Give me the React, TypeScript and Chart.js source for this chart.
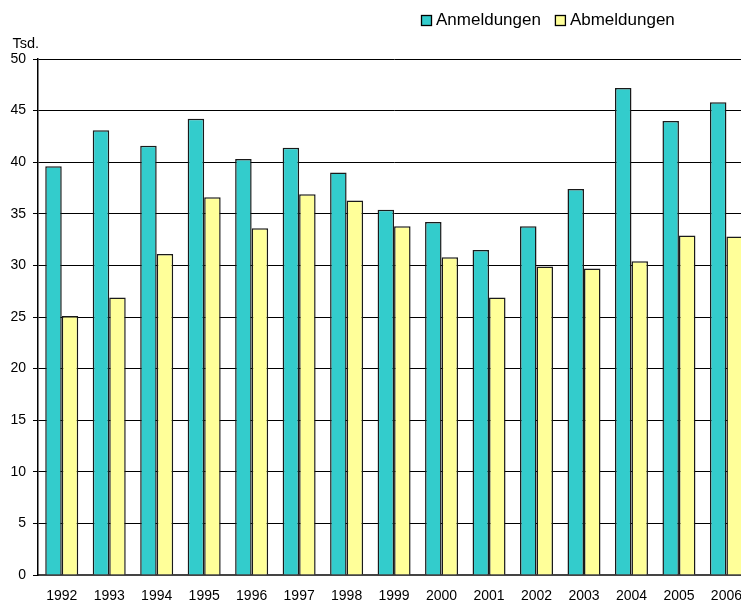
import React, { useEffect, useRef } from "react";
import { Chart, registerables } from "chart.js";

Chart.register(...registerables);

const years = ["1992","1993","1994","1995","1996","1997","1998","1999","2000","2001","2002","2003","2004","2005","2006"];
const anmeldungen = [39.6, 43.1, 41.6, 44.2, 40.3, 41.4, 39.0, 35.4, 34.2, 31.5, 33.8, 37.4, 47.2, 44.0, 45.8];
const abmeldungen = [25.1, 26.9, 31.1, 36.6, 33.6, 36.9, 36.3, 33.8, 30.8, 26.9, 29.9, 29.7, 30.4, 32.9, 32.8];
const seriesNames = ["Anmeldungen", "Abmeldungen"];
const seriesColors = ["#33CCCC", "#FFFF99"];
const unitLabel = "Tsd.";

const FONT = "Arial, 'Liberation Sans', sans-serif";

const legendPlugin = {
  id: "customLegend",
  afterDraw(chart: any) {
    const ctx = chart.ctx;
    ctx.save();
    ctx.fillStyle = "#000";
    ctx.font = `14.5px ${FONT}`;
    ctx.textBaseline = "alphabetic";
    ctx.textAlign = "left";
    ctx.fillText(unitLabel, 12.5, 48.3);
    ctx.font = `17px ${FONT}`;
    let x = 421;
    seriesNames.forEach((name, i) => {
      ctx.fillStyle = seriesColors[i];
      ctx.fillRect(x + 0.5, 15.5, 10, 10);
      ctx.strokeStyle = "#000";
      ctx.lineWidth = 1.3;
      ctx.strokeRect(x + 0.5, 15.5, 10, 10);
      ctx.fillStyle = "#000";
      ctx.fillText(name, x + 15, 25);
      const w = ctx.measureText(name).width;
      x = x + 15 + w + 14;
    });
    ctx.restore();
  },
};

export default function App() {
  const ref = useRef<HTMLCanvasElement>(null);
  useEffect(() => {
    if (!ref.current) return;
    const common = {
      borderColor: "#1a1a1a",
      borderWidth: 1.5,
      barPercentage: 1,
      categoryPercentage: 0.695,
    };
    const chart = new Chart(ref.current, {
      type: "bar",
      data: {
        labels: years,
        datasets: [
          { label: seriesNames[0], data: anmeldungen, backgroundColor: seriesColors[0], ...common },
          { label: seriesNames[1], data: abmeldungen, backgroundColor: seriesColors[1], ...common },
        ],
      },
      options: {
        responsive: false,
        animation: false,
        layout: { padding: { top: 59, left: 0, right: 0, bottom: 0 } },
        plugins: {
          legend: { display: false },
          tooltip: { enabled: false },
        },
        scales: {
          x: {
            grid: { display: false, drawTicks: false },
            border: { display: true, color: "#444", width: 2 },
            ticks: {
              color: "#000",
              font: { family: FONT, size: 14 },
              padding: 13,
              maxRotation: 0,
              autoSkip: false,
            },
            afterFit(scale: any) {
              scale.height = 27;
            },
          },
          y: {
            min: 0,
            max: 50,
            ticks: {
              stepSize: 5,
              color: "#000",
              font: { family: FONT, size: 14 },
              padding: 7,
            },
            grid: { color: "#000", lineWidth: 1, tickLength: 5, drawTicks: true },
            border: { display: true, color: "#000", width: 1.5 },
            afterFit(scale: any) {
              scale.width = 38;
            },
          },
        },
      },
      plugins: [legendPlugin],
    });
    return () => chart.destroy();
  }, []);
  return (
    <div style={{ position: "fixed", left: 0, top: 0, width: 741, height: 602, overflow: "hidden", background: "#fff" }}>
      <canvas ref={ref} width={755} height={602} style={{ display: "block" }} />
    </div>
  );
}
